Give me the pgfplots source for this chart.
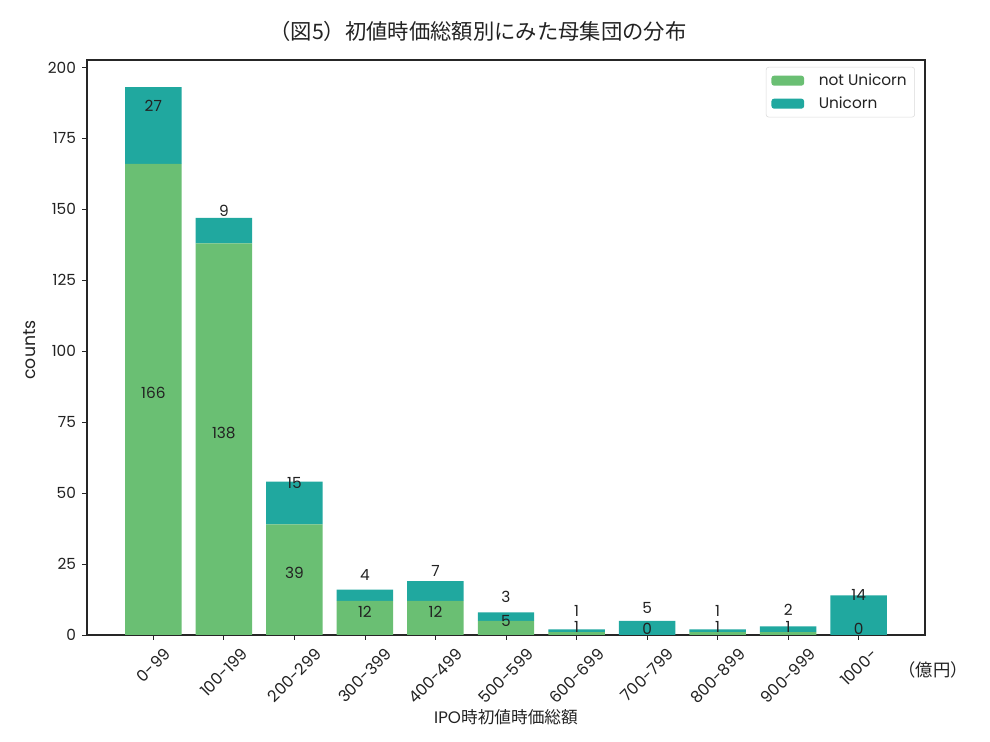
\documentclass[border=0pt]{standalone}
\usepackage{fontspec}
\setmainfont{Poppins}
\newfontfamily\cjk{Noto Sans CJK JP}
\usepackage{graphicx}
\usepackage{pgfplots}
\pgfplotsset{compat=1.18}
\definecolor{cgreen}{HTML}{6ABF73}
\definecolor{cteal}{HTML}{20A89F}
\definecolor{txt}{HTML}{222222}
\newcommand{\rl}[1]{\rotatebox{45}{#1}}
\tikzset{vl/.style={font=\fontsize{11.5}{13}\selectfont, text=txt, inner sep=0pt}}
\begin{document}
\begin{tikzpicture}
\path[use as bounding box] (0pt,0pt) rectangle (742.5pt,556.5pt);
\begin{axis}[
  at={(65.25pt,80.25pt)}, anchor=south west,
  scale only axis, width=628.5pt, height=431.25pt,
  ybar stacked, bar width=0.8,
  xmin=-0.94, xmax=10.94, ymin=0, ymax=202.6,
  enlargelimits=false,
  xtick={0,...,10},
  xticklabels={\rl{0-99},\rl{100-199},\rl{200-299},\rl{300-399},\rl{400-499},\rl{500-599},\rl{600-699},\rl{700-799},\rl{800-899},\rl{900-999},\rl{1000-}},
  ytick={0,25,...,200},
  tick align=outside, tick pos=left,
  major tick length=3.75pt,
  tick style={black!85, line width=0.6pt},
  axis line style={black!85, line width=0.8pt},
  /pgf/number format/assume math mode=true,
  ticklabel style={font=\fontsize{11.5}{13}\selectfont, text=txt},
  xticklabel style={anchor=north, yshift=-2pt, font=\fontsize{12}{14}\selectfont},
  yticklabel style={xshift=-1pt},
  legend style={at={(0.988,0.988)}, anchor=north east, draw=black!15, rounded corners=2pt,
    font=\fontsize{11.5}{13}\selectfont, text=txt, cells={anchor=west}, row sep=3pt, column sep=9pt, inner xsep=4pt, inner ysep=3pt},
  legend image code/.code={\fill[#1] (0pt,-3.75pt) rectangle (24.5pt,3.75pt);},
]
\addplot[fill=cgreen, draw=none] coordinates {(0,166) (1,138) (2,39) (3,12) (4,12) (5,5) (6,1) (7,0) (8,1) (9,1) (10,0)};
\addlegendentry{not Unicorn}
\addplot[fill=cteal, draw=none] coordinates {(0,27) (1,9) (2,15) (3,4) (4,7) (5,3) (6,1) (7,5) (8,1) (9,2) (10,14)};
\addlegendentry{Unicorn}
\coordinate (a0) at (axis cs:0,85.3);
\coordinate (a1) at (axis cs:1,71.3);
\coordinate (a2) at (axis cs:2,21.8);
\coordinate (a3) at (axis cs:3,8.3);
\coordinate (a4) at (axis cs:4,8.3);
\coordinate (a5) at (axis cs:5,4.8);
\coordinate (a6) at (axis cs:6,2.8);
\coordinate (a7) at (axis cs:7,2.3);
\coordinate (a8) at (axis cs:8,2.8);
\coordinate (a9) at (axis cs:9,2.8);
\coordinate (a10) at (axis cs:10,2.3);
\coordinate (b0) at (axis cs:0,186.5);
\coordinate (b1) at (axis cs:1,149.5);
\coordinate (b2) at (axis cs:2,53.5);
\coordinate (b3) at (axis cs:3,21);
\coordinate (b4) at (axis cs:4,22.5);
\coordinate (b5) at (axis cs:5,13.5);
\coordinate (b6) at (axis cs:6,8.5);
\coordinate (b7) at (axis cs:7,9.5);
\coordinate (b8) at (axis cs:8,8.5);
\coordinate (b9) at (axis cs:9,9);
\coordinate (b10) at (axis cs:10,14);
\end{axis}
\node[vl] at (a0) {166};
\node[vl] at (a1) {138};
\node[vl] at (a2) {39};
\node[vl] at (a3) {12};
\node[vl] at (a4) {12};
\node[vl] at (a5) {5};
\node[vl] at (a6) {1};
\node[vl] at (a7) {0};
\node[vl] at (a8) {1};
\node[vl] at (a9) {1};
\node[vl] at (a10) {0};
\node[vl] at (b0) {27};
\node[vl] at (b1) {9};
\node[vl] at (b2) {15};
\node[vl] at (b3) {4};
\node[vl] at (b4) {7};
\node[vl] at (b5) {3};
\node[vl] at (b6) {1};
\node[vl] at (b7) {5};
\node[vl] at (b8) {1};
\node[vl] at (b9) {2};
\node[vl] at (b10) {14};
\node[font=\fontsize{16}{19}\selectfont, text=txt] at (358.5pt,533.25pt) {\cjk （図5）初値時価総額別にみた母集団の分布};
\node[font=\fontsize{13}{15}\selectfont, text=txt, rotate=90] at (22pt,294pt) {counts};
\node[font=\fontsize{12.5}{15}\selectfont, text=txt] at (379.5pt,18.75pt) {IPO{\cjk 時初値時価総額}};
\node[font=\fontsize{13}{15}\selectfont, text=txt] at (699.75pt,54pt) {\cjk （億円）};
\end{tikzpicture}
\end{document}
